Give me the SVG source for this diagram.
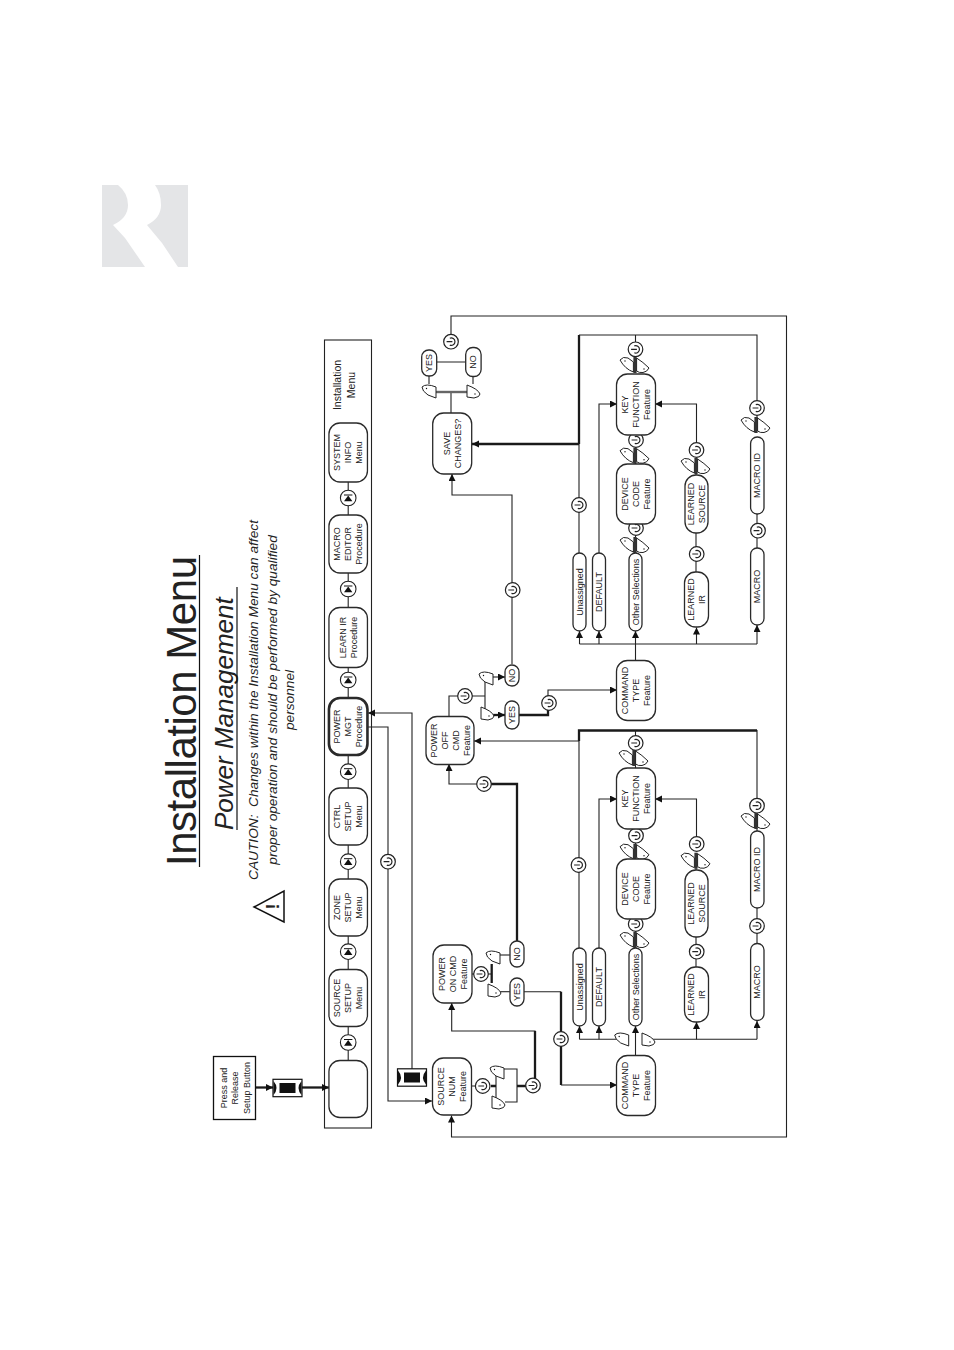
<svg xmlns="http://www.w3.org/2000/svg" xmlns:xlink="http://www.w3.org/1999/xlink" width="954" height="1350" viewBox="0 0 954 1350">
<style>
text{font-family:"Liberation Sans",Arial,sans-serif;fill:#222}
.l{font-size:9px;text-anchor:middle}
.n{fill:#fff;stroke:#2a2a2a;stroke-width:1.3}
.c{fill:none;stroke:#222;stroke-width:1.1}
.t{fill:none;stroke:#1a1a1a;stroke-width:2.3}
.a{marker-end:url(#a)}
.k{fill:#fff;stroke:#222;stroke-width:1}
</style>
<defs>
<marker id="a" markerUnits="userSpaceOnUse" markerWidth="8" markerHeight="8" refX="7" refY="3.5" orient="auto"><path d="M0,0L7,3.5L0,7z" fill="#111"/></marker>
<g id="pwr"><circle r="7.3" fill="#fff" stroke="#222" stroke-width="1.2"/><path d="M-1.2,-3.4A3.7,3.7 0 1 1 -1.2,3.4M-4.4,0H1.4" fill="none" stroke="#222" stroke-width="1.2"/></g>
<g id="nav"><circle r="7.8" fill="#fff" stroke="#222" stroke-width="1.1"/><path d="M-4.2,3.2H4.2L0,-2.6z" fill="#111"/><path d="M-4.2,-3H4.2" stroke="#111" stroke-width="1"/></g>
<g id="ka"><path class="k" d="M-7,-4Q-3,-8 7,-4V7L-1,4Q-7,0 -7,-4z"/><circle cx="-2.5" cy="-2.5" r=".7" fill="#111"/></g>
<g id="kb"><path class="k" d="M-6,-6V6L1,7Q7,6 7,3Q5,-2 -6,-6z"/><circle cx="2" cy="3" r=".7" fill="#111"/></g>
<g id="pair"><rect x="-1.6" y="-8" width="3.2" height="16" fill="#333"/><path class="k" d="M-15,-5Q-12,-9 -7,-7L-1.6,-3V7Q-10,4 -15,-5z"/><path class="k" d="M1.6,-7Q8,-3 14,3Q12,7 8,7.5Q4,8 1.6,6z"/><circle cx="-10" cy="-4" r=".7" fill="#111"/><circle cx="9" cy="4" r=".7" fill="#111"/></g>
<g id="cart"><rect x="-14.5" y="-8.7" width="29" height="17.4" fill="#fff" stroke="#111" stroke-width="1.2"/><rect x="-8" y="-5" width="16" height="10" fill="#111"/><path d="M-14,-7Q-8,0 -14,7zM14,-7Q8,0 14,7z" fill="#111"/></g>
</defs>

<g id="logo" fill="#e4e5e7">
<path d="M102,185H118Q128,193 128,205Q128,218 113,225L125,238L145,267H102z"/>
<path d="M155,185H188V267H178L162,243L147,225Q161,218 161,205Q161,193 155,185z"/>
</g>

<g id="title">
<text transform="translate(196,866) rotate(-90)" font-size="42" textLength="310">Installation Menu</text>
<path d="M199.5,867V555" stroke="#111" stroke-width="1.2"/>
<text transform="translate(233,830) rotate(-90)" font-size="26" font-style="italic">Power Management</text>
<path d="M237,830V587" stroke="#111" stroke-width="1.2"/>
<g font-size="13.7" font-style="italic" text-anchor="middle">
<text transform="translate(258,700) rotate(-90)">CAUTION:&#160; Changes within the Installation Menu can affect</text>
<text transform="translate(277,700) rotate(-90)">proper operation and should be performed by qualified</text>
<text transform="translate(294,700) rotate(-90)">personnel</text>
</g>
<path d="M254,907L284,891V922z" fill="#fff" stroke="#111" stroke-width="1.5"/>
<text transform="translate(279,906.5) rotate(-90)" font-size="18" font-weight="bold" text-anchor="middle">!</text>
</g>

<g id="connectors">
<rect x="324.5" y="340" width="47" height="788" fill="none" stroke="#222" stroke-width="1.1"/>
<path class="t a" d="M255.5,1087.5H273"/>
<path class="t a" d="M302,1087.5H329"/>
<path class="c" d="M348.2,482V1061"/>
<path class="c a" d="M426,1077.5H412V713H368"/>
<path class="c a" d="M368,727H388V1101H432"/>
<path class="c a" d="M451,342V316H786.5V1137H451.5V1115.5"/>
<path class="c" d="M436.7,362H465.7M429,376V384M473,377V384M451,392V413"/>
<path d="M435,392H467" stroke="#666" stroke-width="2.4"/>
<path class="t" d="M579,335V444"/>
<path class="t a" d="M579,444H472"/>
<path class="c" d="M579,335H757V430M635.5,335V342M579,444V553"/>
<path class="c a" d="M599,553V404H617"/>
<path class="c a" d="M696.5,450V404H655"/>
<path class="c" d="M696,460V475M696,533V572M757,514V548"/>
<path class="c" d="M635.5,435V464M635.5,524V553"/>
<path class="c" d="M635.5,660V644"/>
<path class="c" d="M579.5,644H757"/>
<path class="c a" d="M579.5,644V631"/>
<path class="c a" d="M599,644V631"/>
<path class="c a" d="M635.5,644V631"/>
<path class="c a" d="M696.5,644V627.5"/>
<path class="c a" d="M757,644V625"/>
<path class="c a" d="M512,664V495H452V474"/>
<path class="c" d="M449,716.7V696H485M485,678V713"/>
<path class="c a" d="M493,677H505"/>
<path class="t a" d="M493,715H505"/>
<path class="t" d="M519,715H548V708"/>
<path class="c a" d="M548,698V690H617"/>
<path class="t" d="M757,730.5H579V741"/>
<path class="c a" d="M579,741H474"/>
<path class="c" d="M579,741V948M757,730V831M635.5,730V768"/>
<path class="c a" d="M599,948V799H617"/>
<path class="c a" d="M696.5,844V799H655"/>
<path class="c" d="M696,855V870M696,937V967M757,908V943"/>
<path class="c" d="M635.5,829V859M635.5,919V948"/>
<path class="c a" d="M484,784H449V764"/>
<path class="t" d="M517,941V784H491"/>
<path class="c" d="M472,974H491.7"/>
<path class="t" d="M491.7,964V983"/>
<path class="c" d="M500,955H510"/>
<path class="c" d="M500,991.7H510"/>
<path class="c" d="M524,991.7H561"/>
<path class="t" d="M561,991.7V1085"/>
<path class="c a" d="M561,1085H617"/>
<path class="c a" d="M635.5,1056V1026"/>
<path class="c" d="M626,1039.3H579.5"/>
<path class="c a" d="M579.5,1039.3V1026"/>
<path class="c a" d="M599,1039.3V1026"/>
<path class="c" d="M652,1039.3H757"/>
<path class="c a" d="M696.5,1039.3V1022"/>
<path class="c a" d="M757,1039.3V1021"/>
<path class="c a" d="M535,1078V1031H451.7V1003"/>
<path class="t" d="M535,1078V1031"/>
<path class="c" d="M472,1086H476M496,1072V1102M503,1069H517V1102H505"/>
<path class="t" d="M491,1086H496M517,1086H526"/>
</g>

<g id="controls">
<use href="#cart" x="287.5" y="1088"/>
<use href="#cart" x="412" y="1077.5"/>
<use href="#nav" x="348.2" y="1042.5"/>
<use href="#nav" x="348.2" y="951.7"/>
<use href="#nav" x="348.2" y="861.7"/>
<use href="#nav" x="348.2" y="771.7"/>
<use href="#nav" x="348.2" y="680"/>
<use href="#nav" x="348.2" y="589"/>
<use href="#nav" x="348.2" y="498"/>
<use href="#pwr" x="388" y="861.7"/>
<use href="#pwr" x="482.7" y="1086"/>
<use href="#pwr" x="533" y="1085.5"/>
<use href="#pwr" x="481" y="974"/>
<use href="#pwr" x="561" y="1039"/>
<use href="#pwr" x="484" y="784"/>
<use href="#pwr" x="465" y="696"/>
<use href="#pwr" x="549" y="703"/>
<use href="#pwr" x="512.7" y="590"/>
<use href="#pwr" x="451" y="341.7"/>
<use href="#pwr" x="579" y="505"/>
<use href="#pwr" x="578.5" y="865"/>
<use href="#pwr" x="635.5" y="349.3"/>
<use href="#pwr" x="636" y="440"/>
<use href="#pwr" x="636" y="528"/>
<use href="#pwr" x="696.5" y="450"/>
<use href="#pwr" x="696.7" y="554"/>
<use href="#pwr" x="757" y="408"/>
<use href="#pwr" x="758" y="530.7"/>
<use href="#pwr" x="635.7" y="743"/>
<use href="#pwr" x="636" y="835.7"/>
<use href="#pwr" x="635.7" y="924"/>
<use href="#pwr" x="696.7" y="844"/>
<use href="#pwr" x="696.7" y="951.7"/>
<use href="#pwr" x="757" y="805.7"/>
<use href="#pwr" x="757" y="926"/>
<use href="#pair" x="635" y="365"/>
<use href="#pair" x="635" y="455.7"/>
<use href="#pair" x="635" y="545"/>
<use href="#pair" x="696" y="466"/>
<use href="#pair" x="756" y="425"/>
<use href="#pair" x="634" y="758"/>
<use href="#pair" x="635" y="851.7"/>
<use href="#pair" x="635" y="940"/>
<use href="#pair" x="696" y="860.7"/>
<use href="#pair" x="756" y="821"/>
<use href="#ka" x="429" y="391"/>
<use href="#kb" x="473" y="391"/>
<use href="#ka" x="486" y="678"/>
<use href="#kb" x="487" y="713"/>
<use href="#ka" x="493" y="957"/>
<use href="#kb" x="494" y="990"/>
<use href="#ka" x="497" y="1072"/>
<use href="#kb" x="498" y="1102"/>
<use href="#ka" x="621.7" y="1039"/>
<use href="#kb" x="648" y="1039"/>
</g>

<g id="press" transform="translate(234.5,1088)"><rect x="-21" y="-31.5" width="42" height="63" fill="#fff" stroke="#111" stroke-width="1.3"/><text class="l" transform="rotate(-90)"><tspan x="0" y="-8">Press and</tspan><tspan x="0" y="3.5">Release</tspan><tspan x="0" y="15">Setup Button</tspan></text></g>

<g id="menu-label"><text class="l" style="font-size:10.5px" transform="translate(348,385) rotate(-90)"><tspan x="0" y="-7">Installation</tspan><tspan x="0" y="6.5">Menu</tspan></text></g>

<g id="start" transform="translate(348.2,1089)"><rect class="n" x="-19.25" y="-28.5" width="38.5" height="57" rx="11"/></g>
<g id="source-setup" transform="translate(348.2,998)"><rect class="n" x="-19.25" y="-28.5" width="38.5" height="57" rx="11"/><text class="l" transform="rotate(-90)"><tspan x="0" y="-8">SOURCE</tspan><tspan x="0" y="3">SETUP</tspan><tspan x="0" y="14">Menu</tspan></text></g>
<g id="zone-setup" transform="translate(348.2,907.5)"><rect class="n" x="-19.25" y="-28.5" width="38.5" height="57" rx="11"/><text class="l" transform="rotate(-90)"><tspan x="0" y="-8">ZONE</tspan><tspan x="0" y="3">SETUP</tspan><tspan x="0" y="14">Menu</tspan></text></g>
<g id="ctrl-setup" transform="translate(348.2,816.5)"><rect class="n" x="-19.25" y="-28.5" width="38.5" height="57" rx="11"/><text class="l" transform="rotate(-90)"><tspan x="0" y="-8">CTRL</tspan><tspan x="0" y="3">SETUP</tspan><tspan x="0" y="14">Menu</tspan></text></g>
<g id="power-mgt" transform="translate(348.2,726.5)"><rect class="n" style="stroke-width:2.6" x="-19.25" y="-28.5" width="38.5" height="57" rx="11"/><text class="l" transform="rotate(-90)"><tspan x="0" y="-8">POWER</tspan><tspan x="0" y="3">MGT</tspan><tspan x="0" y="14">Procedure</tspan></text></g>
<g id="learn-ir" transform="translate(348.2,637.5)"><rect class="n" x="-19.25" y="-30" width="38.5" height="60" rx="11"/><text class="l" transform="rotate(-90)"><tspan x="0" y="-2.5">LEARN IR</tspan><tspan x="0" y="8.5">Procedure</tspan></text></g>
<g id="macro-editor" transform="translate(348.2,544)"><rect class="n" x="-19.25" y="-29" width="38.5" height="58" rx="11"/><text class="l" transform="rotate(-90)"><tspan x="0" y="-8">MACRO</tspan><tspan x="0" y="3">EDITOR</tspan><tspan x="0" y="14">Procedure</tspan></text></g>
<g id="system-info" transform="translate(348.2,452.5)"><rect class="n" x="-19.25" y="-29.5" width="38.5" height="59" rx="11"/><text class="l" transform="rotate(-90)"><tspan x="0" y="-8">SYSTEM</tspan><tspan x="0" y="3">INFO</tspan><tspan x="0" y="14">Menu</tspan></text></g>

<g id="source-num" transform="translate(452,1086.5)"><rect class="n" x="-19.5" y="-28.5" width="39" height="57" rx="11"/><text class="l" transform="rotate(-90)"><tspan x="0" y="-8">SOURCE</tspan><tspan x="0" y="3">NUM</tspan><tspan x="0" y="14">Feature</tspan></text></g>
<g id="power-on" transform="translate(452.5,974)"><rect class="n" x="-19.5" y="-29" width="39" height="58" rx="11"/><text class="l" transform="rotate(-90)"><tspan x="0" y="-8">POWER</tspan><tspan x="0" y="3">ON CMD</tspan><tspan x="0" y="14">Feature</tspan></text></g>
<g id="power-off" transform="translate(450,740.5)"><rect class="n" x="-24" y="-24" width="48" height="48" rx="11"/><text class="l" transform="rotate(-90)"><tspan x="0" y="-13">POWER</tspan><tspan x="0" y="-2">OFF</tspan><tspan x="0" y="9">CMD</tspan><tspan x="0" y="20">Feature</tspan></text></g>
<g id="save-changes" transform="translate(452.2,443.5)"><rect class="n" x="-19.5" y="-30.5" width="39" height="61" rx="11"/><text class="l" transform="rotate(-90)"><tspan x="0" y="-2.5">SAVE</tspan><tspan x="0" y="8.5">CHANGES?</tspan></text></g>

<g id="save-yes" transform="translate(429.2,363)"><rect class="n" x="-7.5" y="-13" width="15" height="26" rx="7"/><text class="l" transform="rotate(-90)" y="3">YES</text></g>
<g id="save-no" transform="translate(473.4,362)"><rect class="n" x="-7.7" y="-14.5" width="15.4" height="29" rx="7"/><text class="l" transform="rotate(-90)" y="3">NO</text></g>
<g id="off-no" transform="translate(512,675.5)"><rect class="n" x="-7" y="-10.5" width="14" height="21" rx="7"/><text class="l" transform="rotate(-90)" y="3">NO</text></g>
<g id="off-yes" transform="translate(512,715)"><rect class="n" x="-7" y="-14" width="14" height="28" rx="7"/><text class="l" transform="rotate(-90)" y="3">YES</text></g>
<g id="on-no" transform="translate(517,954)"><rect class="n" x="-7" y="-13" width="14" height="26" rx="7"/><text class="l" transform="rotate(-90)" y="3">NO</text></g>
<g id="on-yes" transform="translate(517,992)"><rect class="n" x="-7" y="-14" width="14" height="28" rx="7"/><text class="l" transform="rotate(-90)" y="3">YES</text></g>

<g id="unassigned-1" transform="translate(579.5,592)"><rect class="n" x="-6.5" y="-39" width="13" height="78" rx="6.5"/><text class="l" transform="rotate(-90)" y="3">Unassigned</text></g>
<g id="default-1" transform="translate(599,592)"><rect class="n" x="-6.5" y="-39" width="13" height="78" rx="6.5"/><text class="l" transform="rotate(-90)" y="3">DEFAULT</text></g>
<g id="other-1" transform="translate(635.5,592)"><rect class="n" x="-6.5" y="-39" width="13" height="78" rx="6.5"/><text class="l" transform="rotate(-90)" y="3">Other Selections</text></g>
<g id="learned-ir-1" transform="translate(696.5,599.5)"><rect class="n" x="-12" y="-27.5" width="24" height="55" rx="11"/><text class="l" transform="rotate(-90)"><tspan x="0" y="-2.5">LEARNED</tspan><tspan x="0" y="8.5">IR</tspan></text></g>
<g id="macro-1" transform="translate(757.3,586.5)"><rect class="n" x="-6.7" y="-38.5" width="13.4" height="77" rx="6.5"/><text class="l" transform="rotate(-90)" y="3">MACRO</text></g>
<g id="command-1" transform="translate(636,690.5)"><rect class="n" x="-19.5" y="-30" width="39" height="60" rx="11"/><text class="l" transform="rotate(-90)"><tspan x="0" y="-8">COMMAND</tspan><tspan x="0" y="3">TYPE</tspan><tspan x="0" y="14">Feature</tspan></text></g>
<g id="key-function-1" transform="translate(636,404.5)"><rect class="n" x="-19.5" y="-30.5" width="39" height="61" rx="11"/><text class="l" transform="rotate(-90)"><tspan x="0" y="-8">KEY</tspan><tspan x="0" y="3">FUNCTION</tspan><tspan x="0" y="14">Feature</tspan></text></g>
<g id="device-code-1" transform="translate(636,494)"><rect class="n" x="-19.5" y="-30" width="39" height="60" rx="11"/><text class="l" transform="rotate(-90)"><tspan x="0" y="-8">DEVICE</tspan><tspan x="0" y="3">CODE</tspan><tspan x="0" y="14">Feature</tspan></text></g>
<g id="learned-source-1" transform="translate(696.5,504)"><rect class="n" x="-11.5" y="-29" width="23" height="58" rx="11"/><text class="l" transform="rotate(-90)"><tspan x="0" y="-2.5">LEARNED</tspan><tspan x="0" y="8.5">SOURCE</tspan></text></g>
<g id="macro-id-1" transform="translate(757.3,475.5)"><rect class="n" x="-6.7" y="-38.5" width="13.4" height="77" rx="6.5"/><text class="l" transform="rotate(-90)" y="3">MACRO ID</text></g>

<g id="unassigned-2" transform="translate(579.5,987)"><rect class="n" x="-6.5" y="-39" width="13" height="78" rx="6.5"/><text class="l" transform="rotate(-90)" y="3">Unassigned</text></g>
<g id="default-2" transform="translate(599,987)"><rect class="n" x="-6.5" y="-39" width="13" height="78" rx="6.5"/><text class="l" transform="rotate(-90)" y="3">DEFAULT</text></g>
<g id="other-2" transform="translate(635.5,987)"><rect class="n" x="-6.5" y="-39" width="13" height="78" rx="6.5"/><text class="l" transform="rotate(-90)" y="3">Other Selections</text></g>
<g id="learned-ir-2" transform="translate(696.5,994.5)"><rect class="n" x="-12" y="-27.5" width="24" height="55" rx="11"/><text class="l" transform="rotate(-90)"><tspan x="0" y="-2.5">LEARNED</tspan><tspan x="0" y="8.5">IR</tspan></text></g>
<g id="macro-2" transform="translate(757.3,982)"><rect class="n" x="-6.7" y="-38.5" width="13.4" height="77" rx="6.5"/><text class="l" transform="rotate(-90)" y="3">MACRO</text></g>
<g id="command-2" transform="translate(636,1085.5)"><rect class="n" x="-19.5" y="-30" width="39" height="60" rx="11"/><text class="l" transform="rotate(-90)"><tspan x="0" y="-8">COMMAND</tspan><tspan x="0" y="3">TYPE</tspan><tspan x="0" y="14">Feature</tspan></text></g>
<g id="key-function-2" transform="translate(636,798.5)"><rect class="n" x="-19.5" y="-30.5" width="39" height="61" rx="11"/><text class="l" transform="rotate(-90)"><tspan x="0" y="-8">KEY</tspan><tspan x="0" y="3">FUNCTION</tspan><tspan x="0" y="14">Feature</tspan></text></g>
<g id="device-code-2" transform="translate(636,889)"><rect class="n" x="-19.5" y="-30" width="39" height="60" rx="11"/><text class="l" transform="rotate(-90)"><tspan x="0" y="-8">DEVICE</tspan><tspan x="0" y="3">CODE</tspan><tspan x="0" y="14">Feature</tspan></text></g>
<g id="learned-source-2" transform="translate(696.5,903.5)"><rect class="n" x="-11.5" y="-33.5" width="23" height="67" rx="11"/><text class="l" transform="rotate(-90)"><tspan x="0" y="-2.5">LEARNED</tspan><tspan x="0" y="8.5">SOURCE</tspan></text></g>
<g id="macro-id-2" transform="translate(757.3,869.5)"><rect class="n" x="-6.7" y="-38.5" width="13.4" height="77" rx="6.5"/><text class="l" transform="rotate(-90)" y="3">MACRO ID</text></g>
</svg>
